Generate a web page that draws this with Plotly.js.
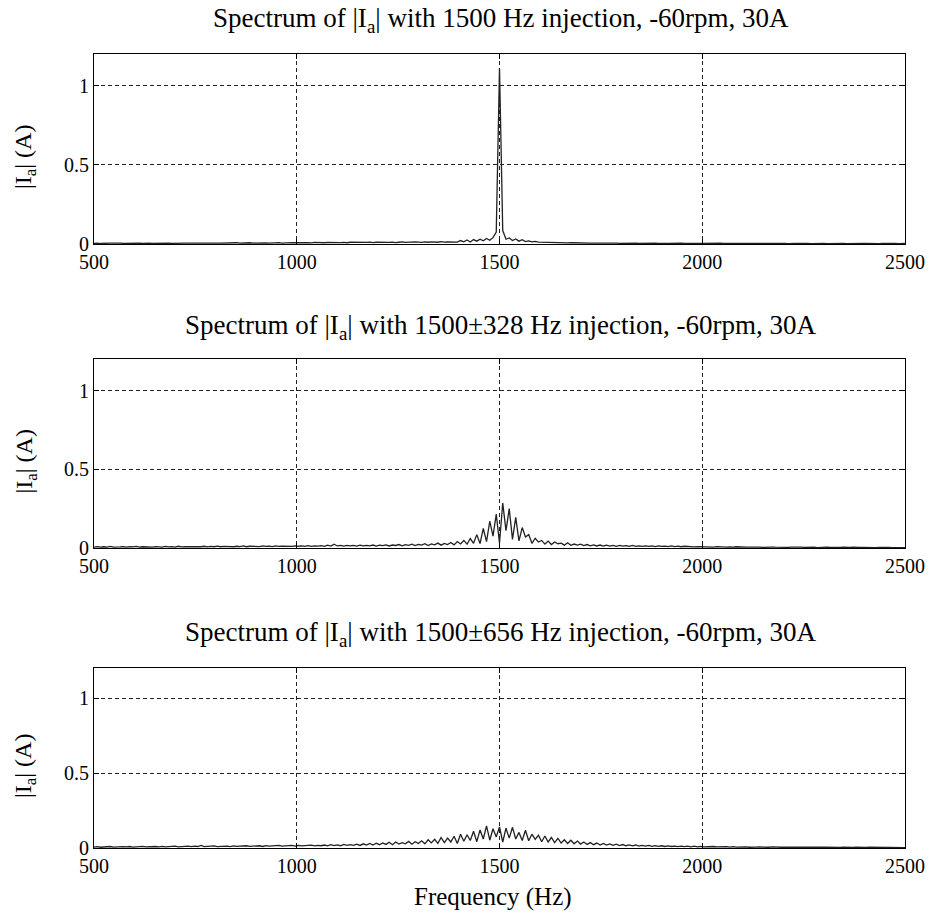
<!DOCTYPE html>
<html>
<head>
<meta charset="utf-8">
<script src="https://cdn.plot.ly/plotly-3.0.1.min.js"></script>
<style>html,body{margin:0;padding:0;background:#fff;}#chart{width:928px;height:914px;}</style>
</head>
<body>
<div id="chart"></div>
<script>
// Frequency grid: starts at 500 Hz, one sample every 8 Hz (251 samples up to 2500 Hz)
const freqStart = 500;
const freqStep = 8;

const panelTitles = [
  "Spectrum of |I<sub>a</sub>| with 1500 Hz injection, -60rpm, 30A",
  "Spectrum of |I<sub>a</sub>| with 1500±328 Hz injection, -60rpm, 30A",
  "Spectrum of |I<sub>a</sub>| with 1500±656 Hz injection, -60rpm, 30A"
];
const xTickVals = [500, 1000, 1500, 2000, 2500];
const yTickVals = [0, 0.5, 1];
const yTickText = ["0", "0.5", "1"];
const yAxisLabel = "|I<sub>a</sub>| (A)";
const xAxisLabel = "Frequency (Hz)";

// Panel 1: 1500 Hz injection
const spec1 = [
0.004,0.006,0.003,0.005,0.004,0.006,0.005,0.003,0.005,0.004,
0.005,0.004,0.006,0.004,0.005,0.003,0.006,0.005,0.004,0.005,
0.006,0.004,0.005,0.006,0.004,0.005,0.007,0.004,0.005,0.006,
0.005,0.006,0.004,0.007,0.005,0.006,0.005,0.007,0.006,0.005,
0.006,0.007,0.005,0.006,0.008,0.005,0.007,0.006,0.008,0.006,
0.007,0.006,0.008,0.007,0.006,0.008,0.007,0.009,0.006,0.008,
0.007,0.009,0.008,0.007,0.010,0.008,0.009,0.007,0.010,0.008,
0.009,0.008,0.010,0.009,0.008,0.011,0.009,0.010,0.008,0.011,
0.010,0.009,0.011,0.008,0.010,0.012,0.009,0.011,0.010,0.012,
0.011,0.010,0.012,0.009,0.011,0.013,0.010,0.012,0.011,0.013,
0.012,0.010,0.013,0.011,0.014,0.012,0.011,0.015,0.012,0.014,
0.013,0.016,0.012,0.022,0.014,0.025,0.013,0.028,0.018,0.030,
0.020,0.035,0.024,0.040,0.075,1.110,0.085,0.030,0.038,0.022,
0.032,0.018,0.027,0.015,0.020,0.013,0.016,0.012,0.011,0.010,
0.011,0.009,0.010,0.008,0.009,0.008,0.007,0.008,0.007,0.006,
0.007,0.006,0.007,0.005,0.006,0.007,0.005,0.006,0.005,0.006,
0.005,0.006,0.004,0.005,0.006,0.004,0.005,0.005,0.004,0.005,
0.004,0.005,0.004,0.005,0.003,0.005,0.004,0.004,0.005,0.003,
0.004,0.005,0.003,0.004,0.004,0.003,0.005,0.004,0.003,0.004,
0.004,0.003,0.004,0.005,0.003,0.004,0.003,0.004,0.003,0.004,
0.003,0.004,0.003,0.003,0.004,0.003,0.004,0.003,0.003,0.004,
0.003,0.004,0.003,0.003,0.002,0.004,0.003,0.003,0.004,0.003,
0.003,0.002,0.003,0.004,0.003,0.003,0.002,0.003,0.004,0.003,
0.003,0.003,0.002,0.003,0.003,0.004,0.002,0.003,0.003,0.002,
0.003,0.003,0.002,0.003,0.004,0.002,0.003,0.003,0.002,0.003,0.003
];

// Panel 2: 1500±328 Hz injection
const spec2 = [
0.006,0.009,0.005,0.008,0.006,0.010,0.005,0.008,0.007,0.009,
0.006,0.009,0.007,0.010,0.006,0.008,0.007,0.010,0.006,0.009,
0.008,0.006,0.010,0.007,0.009,0.006,0.011,0.007,0.009,0.008,
0.010,0.007,0.009,0.008,0.011,0.007,0.010,0.008,0.012,0.008,
0.010,0.009,0.012,0.008,0.011,0.009,0.013,0.008,0.011,0.010,
0.012,0.009,0.013,0.010,0.012,0.009,0.014,0.010,0.012,0.011,
0.013,0.010,0.014,0.011,0.013,0.010,0.015,0.011,0.014,0.012,
0.015,0.011,0.018,0.012,0.024,0.013,0.016,0.012,0.017,0.013,
0.016,0.012,0.018,0.013,0.017,0.014,0.019,0.012,0.018,0.015,
0.020,0.013,0.019,0.016,0.022,0.014,0.021,0.017,0.024,0.015,
0.023,0.018,0.027,0.016,0.026,0.020,0.031,0.018,0.029,0.022,
0.035,0.020,0.041,0.026,0.048,0.024,0.060,0.030,0.085,0.028,
0.125,0.040,0.170,0.075,0.215,0.030,0.285,0.110,0.250,0.055,
0.195,0.045,0.130,0.070,0.085,0.030,0.062,0.038,0.048,0.025,
0.044,0.022,0.038,0.027,0.031,0.018,0.033,0.017,0.025,0.019,
0.024,0.015,0.022,0.014,0.020,0.013,0.019,0.012,0.018,0.012,
0.017,0.011,0.016,0.012,0.015,0.010,0.016,0.011,0.014,0.010,
0.013,0.010,0.014,0.009,0.013,0.010,0.012,0.009,0.014,0.009,
0.012,0.008,0.011,0.009,0.010,0.007,0.009,0.008,0.010,0.007,
0.008,0.006,0.009,0.007,0.008,0.006,0.007,0.005,0.008,0.006,
0.007,0.005,0.006,0.007,0.005,0.006,0.004,0.006,0.005,0.006,
0.005,0.004,0.006,0.005,0.004,0.005,0.006,0.004,0.005,0.004,
0.005,0.004,0.005,0.003,0.005,0.004,0.005,0.004,0.003,0.005,
0.004,0.005,0.003,0.004,0.005,0.003,0.004,0.004,0.003,0.005,
0.004,0.003,0.004,0.005,0.003,0.004,0.003,0.004,0.003,0.004,0.003
];

// Panel 3: 1500±656 Hz injection
const spec3 = [
0.006,0.009,0.005,0.008,0.006,0.010,0.006,0.008,0.007,0.009,
0.007,0.010,0.006,0.009,0.008,0.011,0.007,0.009,0.008,0.010,
0.008,0.011,0.007,0.010,0.009,0.012,0.008,0.010,0.009,0.012,
0.009,0.013,0.010,0.017,0.009,0.012,0.010,0.014,0.009,0.012,
0.010,0.013,0.009,0.014,0.011,0.013,0.010,0.015,0.011,0.013,
0.012,0.015,0.010,0.016,0.012,0.014,0.011,0.017,0.012,0.015,
0.013,0.017,0.012,0.018,0.014,0.016,0.013,0.019,0.014,0.018,
0.015,0.020,0.014,0.022,0.016,0.021,0.015,0.024,0.017,0.022,
0.018,0.026,0.017,0.028,0.019,0.030,0.020,0.032,0.022,0.034,
0.024,0.038,0.022,0.040,0.026,0.036,0.028,0.044,0.025,0.042,
0.030,0.048,0.028,0.055,0.034,0.058,0.031,0.070,0.036,0.066,
0.040,0.078,0.030,0.092,0.045,0.088,0.050,0.112,0.042,0.120,
0.060,0.148,0.052,0.128,0.074,0.140,0.040,0.132,0.066,0.138,
0.060,0.104,0.050,0.118,0.048,0.092,0.058,0.085,0.042,0.080,
0.040,0.070,0.036,0.064,0.033,0.055,0.030,0.052,0.028,0.046,
0.026,0.040,0.024,0.036,0.022,0.033,0.020,0.030,0.019,0.027,
0.018,0.025,0.016,0.023,0.015,0.021,0.014,0.020,0.013,0.018,
0.012,0.017,0.011,0.016,0.011,0.015,0.010,0.014,0.010,0.013,
0.009,0.013,0.009,0.012,0.008,0.012,0.008,0.011,0.008,0.010,
0.007,0.010,0.007,0.009,0.007,0.009,0.006,0.009,0.006,0.008,
0.006,0.008,0.005,0.008,0.006,0.007,0.005,0.008,0.005,0.007,
0.005,0.007,0.005,0.006,0.004,0.007,0.005,0.006,0.004,0.006,
0.005,0.006,0.004,0.006,0.005,0.005,0.004,0.006,0.004,0.005,
0.004,0.006,0.004,0.005,0.004,0.005,0.003,0.005,0.004,0.005,
0.004,0.005,0.003,0.005,0.004,0.004,0.003,0.005,0.004,0.004,0.003
];

const series = [spec1, spec2, spec3];

const FONT = "Liberation Serif, Times New Roman, serif";
const W = 928, H = 914;
const xDomain = [94 / W, 905 / W];
// plot boxes in pixels [top, bottom]
const boxes = [[54, 244], [359, 548], [668, 848]];
const titleY = [20, 327, 634];

const traces = series.map((s, i) => ({
  type: "scatter",
  mode: "lines",
  x0: freqStart,
  dx: freqStep,
  y: s,
  xaxis: i === 0 ? "x" : "x" + (i + 1),
  yaxis: i === 0 ? "y" : "y" + (i + 1),
  line: { color: "#222222", width: 1.3 },
  hoverinfo: "skip",
  showlegend: false
}));

const layout = {
  width: W,
  height: H,
  margin: { l: 0, r: 0, t: 0, b: 0 },
  paper_bgcolor: "#ffffff",
  plot_bgcolor: "#ffffff",
  font: { family: FONT, color: "#000", size: 20 },
  showlegend: false,
  annotations: []
};

boxes.forEach((b, i) => {
  const xk = i === 0 ? "xaxis" : "xaxis" + (i + 1);
  const yk = i === 0 ? "yaxis" : "yaxis" + (i + 1);
  const yName = i === 0 ? "y" : "y" + (i + 1);
  const xName = i === 0 ? "x" : "x" + (i + 1);
  layout[xk] = {
    domain: xDomain,
    anchor: yName,
    range: [500, 2500],
    tickmode: "array",
    tickvals: xTickVals,
    ticks: "inside",
    ticklen: 5,
    tickcolor: "#000",
    showline: true,
    linecolor: "#000",
    linewidth: 1,
    mirror: "ticks",
    showgrid: true,
    gridcolor: "#222",
    gridwidth: 1,
    griddash: "4px,3px",
    zeroline: false,
    tickfont: { family: FONT, size: 20, color: "#000" },
    fixedrange: true
  };
  layout[yk] = {
    domain: [1 - b[1] / H, 1 - b[0] / H],
    anchor: xName,
    range: [0, 1.2],
    tickmode: "array",
    tickvals: yTickVals,
    ticktext: yTickText,
    ticks: "inside",
    ticklen: 5,
    tickcolor: "#000",
    showline: true,
    linecolor: "#000",
    linewidth: 1,
    mirror: "ticks",
    showgrid: true,
    gridcolor: "#222",
    gridwidth: 1,
    griddash: "4px,3px",
    zeroline: false,
    tickfont: { family: FONT, size: 20, color: "#000" },
    fixedrange: true
  };
  layout.annotations.push({
    text: panelTitles[i],
    xref: "paper", yref: "paper",
    x: 501 / W, y: 1 - titleY[i] / H,
    xanchor: "center", yanchor: "middle",
    showarrow: false,
    font: { family: FONT, size: 27, color: "#000" }
  });
  layout.annotations.push({
    text: yAxisLabel,
    xref: "paper", yref: "paper",
    x: 25 / W, y: 1 - ((b[0] + b[1]) / 2 + 8) / H,
    xanchor: "center", yanchor: "middle",
    textangle: -90,
    showarrow: false,
    font: { family: FONT, size: 24, color: "#000" }
  });
});

layout.annotations.push({
  text: xAxisLabel,
  xref: "paper", yref: "paper",
  x: 493 / W, y: 1 - 897 / H,
  xanchor: "center", yanchor: "middle",
  showarrow: false,
  font: { family: FONT, size: 25, color: "#000" }
});

Plotly.newPlot("chart", traces, layout, { staticPlot: true, displayModeBar: false });
</script>
</body>
</html>
